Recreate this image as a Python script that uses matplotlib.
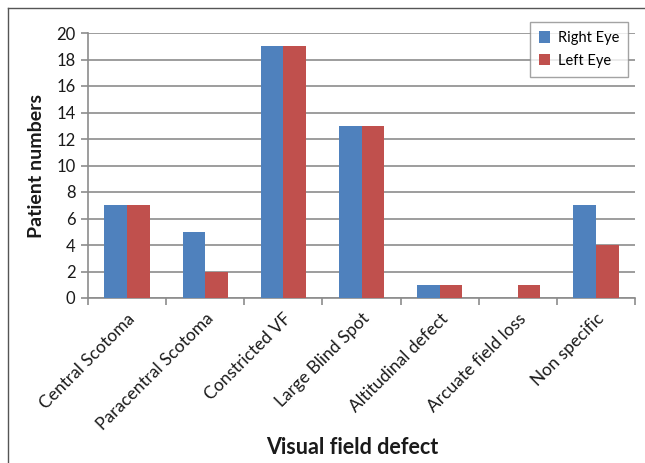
import matplotlib
matplotlib.use("Agg")
import matplotlib.pyplot as plt
import numpy as np
from matplotlib.lines import Line2D

categories = ["Central Scotoma", "Paracentral Scotoma", "Constricted VF", "Large Blind Spot",
              "Altitudinal defect", "Arcuate field loss", "Non specific"]
right_eye = [7, 5, 19, 13, 1, 0, 7]
left_eye = [7, 2, 19, 13, 1, 1, 4]
yticks = [0, 2, 4, 6, 8, 10, 12, 14, 16, 18, 20]

plt.rcParams['font.family'] = ['Lato', 'DejaVu Sans']

fig = plt.figure(figsize=(6.45, 4.63), dpi=100)
ax = fig.add_axes([88/645, 1-298/463, (635-88)/645, (298-33)/463])

grey = '#8c8c8c'
x = np.arange(len(categories))
w = 0.29
ax.bar(x - w/2, right_eye, w, color='#4F81BD', label='Right Eye', zorder=3)
ax.bar(x + w/2, left_eye, w, color='#C0504D', label='Left Eye', zorder=3)

ax.set_xlim(-0.5, len(categories) - 0.5)
ax.set_ylim(0, 20)
ax.set_yticks(yticks)
ax.yaxis.grid(True, color=grey, linewidth=1.2, zorder=0)
ax.set_axisbelow(True)

ax.set_xticks(x)
ax.set_xticklabels(categories, rotation=45, ha='right', rotation_mode='anchor', fontsize=12.5, color='#1a1a1a')
ax.set_xticks(np.arange(-0.5, len(categories), 1), minor=True)
ax.tick_params(axis='x', which='major', length=0, pad=9)
ax.tick_params(axis='x', which='minor', length=5, color=grey, width=1.2, direction='out')
ax.tick_params(axis='y', length=5, color=grey, width=1.2, direction='out', labelsize=12, pad=4, labelcolor='#1a1a1a')

for s in ['top', 'right']:
    ax.spines[s].set_visible(False)
for s in ['left', 'bottom']:
    ax.spines[s].set_color(grey)
    ax.spines[s].set_linewidth(1.2)

ax.set_ylabel('Patient numbers', fontsize=14, fontweight='bold', labelpad=8, color='#1a1a1a')
fig.text(352/645, 1-448/463, 'Visual field defect', fontsize=15.5, fontweight='bold',
         ha='center', va='center', color='#1a1a1a')

leg = ax.legend(loc='upper right', bbox_to_anchor=(1.0, 1 + 18/265), fontsize=10.5,
                frameon=True, fancybox=False, edgecolor=grey, borderpad=0.6,
                handlelength=0.8, handleheight=0.8, handletextpad=0.5, labelspacing=0.6)
leg.get_frame().set_linewidth(1.0)

# outer frame (left and top)
fig.add_artist(Line2D([8/645, 8/645], [0, 1-8/463], transform=fig.transFigure, color='#555555', linewidth=1))
fig.add_artist(Line2D([8/645, 1], [1-8/463, 1-8/463], transform=fig.transFigure, color='#555555', linewidth=1))

fig.savefig('out.png', dpi=100)
